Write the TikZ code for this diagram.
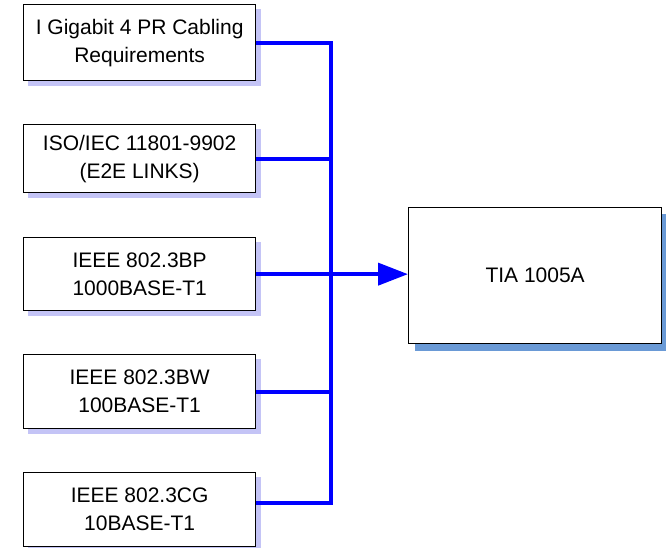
\documentclass[tikz,border=0pt]{standalone}
\usepackage{fontspec}
\setmainfont{Liberation Sans}
\usetikzlibrary{arrows.meta,backgrounds}
\definecolor{shadowA}{RGB}{196,196,246}
\definecolor{shadowB}{RGB}{106,154,214}
\definecolor{busblue}{RGB}{0,0,255}
\begin{document}
\begin{tikzpicture}[x=1pt,y=-1pt,
  srcbox/.style={draw=black,line width=1.3pt,fill=white,minimum width=232pt,inner sep=0pt,
    anchor=north west,align=center,font=\fontsize{21pt}{28pt}\selectfont},
  bus/.style={draw=busblue,line width=4pt},
  busarrow/.style={bus,-{Triangle[length=30pt,width=22pt]}}]
\useasboundingbox (0,0) rectangle (666,548);
\node[srcbox,minimum height=76pt] (b1) at (23,4) {I Gigabit 4 PR Cabling\\Requirements};
\node[srcbox,minimum height=68pt] (b2) at (23,124) {ISO/IEC 11801-9902\\(E2E LINKS)};
\node[srcbox,minimum height=73pt] (b3) at (23,237) {IEEE 802.3BP\\1000BASE-T1};
\node[srcbox,minimum height=74pt] (b4) at (23,354) {IEEE 802.3BW\\100BASE-T1};
\node[srcbox,minimum height=74pt] (b5) at (23,472) {IEEE 802.3CG\\10BASE-T1};
\node[draw=black,line width=1.3pt,fill=white,minimum width=253pt,minimum height=136pt,inner sep=0pt,
  anchor=north west,font=\fontsize{21pt}{28pt}\selectfont] (tia) at (408,207) {TIA 1005A};
\begin{scope}[on background layer]
  \foreach \b in {b1,b2,b3,b4,b5}
    \fill[shadowA] ([shift={(5,5)}]\b.north west) rectangle ([shift={(5,5)}]\b.south east);
  \fill[shadowB] ([shift={(7,7)}]tia.north west) rectangle ([shift={(7,7)}]tia.south east);
\end{scope}
\coordinate (top) at (331,0);
\coordinate (e5) at ([yshift=7pt]b5.east);
\draw[bus,line join=miter] (b1.east) -- (b1.east -| top) -- (e5 -| top) -- (e5);
\draw[bus] (b2.east) -- (b2.east -| top);
\draw[bus] (b4.east) -- (b4.east -| top);
\draw[busarrow] (b3.east) -- (b3.east -| tia.west);
\end{tikzpicture}
\end{document}
